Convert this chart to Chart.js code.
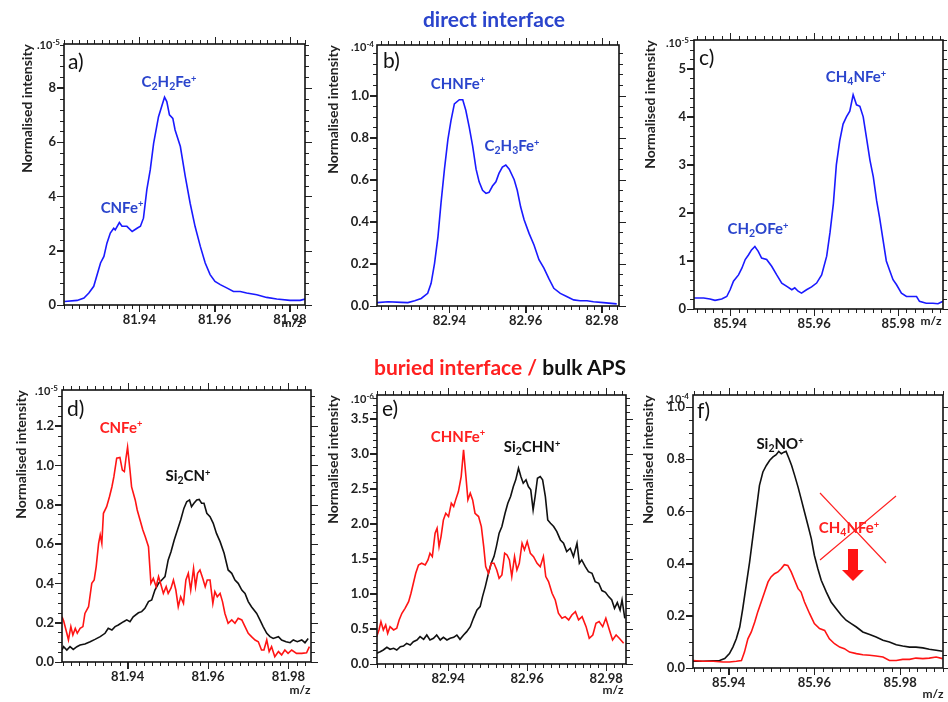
<!DOCTYPE html>
<html>
<head>
<meta charset="utf-8">
<script src="https://cdn.jsdelivr.net/npm/chart.js@4.4.1/dist/chart.umd.min.js"></script>
<style>
html, body { margin: 0; padding: 0; background: #fff; overflow: hidden; }
body { width: 948px; height: 702px; position: relative; font-family: Lato, "Open Sans", sans-serif; }
canvas { position: absolute; }
.t { position: absolute; font-weight: bold; white-space: nowrap; line-height: 1; transform: translate(-50%, -50%); }
.lab { font-size: 15px; }
.blue { color: #2a44cc; }
.red { color: #ff2020; }
.blk { color: #111; }
.sb { font-size: 0.7em; vertical-align: -0.28em; }
.sp { font-size: 0.62em; vertical-align: 0.55em; }
.exp { position: absolute; font-size: 11px; font-weight: bold; color: #222; transform: translate(-100%, -50%); white-space: nowrap; }
.exp sup { font-size: 8px; vertical-align: 4px; }
.let { position: absolute; font-size: 21px; color: #111; line-height: 1; }
.mz { position: absolute; font-size: 12px; font-weight: bold; color: #222; transform: translate(-50%, -50%); }
</style>
</head>
<body>

<div class="t blue" style="left:494px;top:18px;font-size:21px;">direct interface</div>
<div class="t" style="left:500px;top:366px;font-size:21px;"><span class="red">buried interface /</span> <span class="blk">bulk APS</span></div>

<div class="t lab blue" style="left:122px;top:207px;">CNFe<span class="sp">+</span></div>
<div class="t lab blue" style="left:169px;top:83px;">C<span class="sb">2</span>H<span class="sb">2</span>Fe<span class="sp">+</span></div>
<div class="t lab blue" style="left:458px;top:83px;">CHNFe<span class="sp">+</span></div>
<div class="t lab blue" style="left:512px;top:147px;">C<span class="sb">2</span>H<span class="sb">3</span>Fe<span class="sp">+</span></div>
<div class="t lab blue" style="left:758px;top:230px;">CH<span class="sb">2</span>OFe<span class="sp">+</span></div>
<div class="t lab blue" style="left:856px;top:78px;">CH<span class="sb">4</span>NFe<span class="sp">+</span></div>
<div class="t lab red" style="left:121px;top:427px;">CNFe<span class="sp">+</span></div>
<div class="t lab blk" style="left:188px;top:477px;">Si<span class="sb">2</span>CN<span class="sp">+</span></div>
<div class="t lab red" style="left:458px;top:436px;">CHNFe<span class="sp">+</span></div>
<div class="t lab blk" style="left:532px;top:448px;">Si<span class="sb">2</span>CHN<span class="sp">+</span></div>
<div class="t lab blk" style="left:780px;top:445px;">Si<span class="sb">2</span>NO<span class="sp">+</span></div>
<div class="t lab red" style="left:849px;top:529px;">CH<span class="sb">4</span>NFe<span class="sp">+</span></div>

<div class="exp" style="left:60px;top:44px;">.10<sup>-5</sup></div>
<div class="exp" style="left:374px;top:46px;">.10<sup>-4</sup></div>
<div class="exp" style="left:689px;top:42px;">.10<sup>-5</sup></div>
<div class="exp" style="left:58px;top:390px;">.10<sup>-5</sup></div>
<div class="exp" style="left:374px;top:398px;">.10<sup>-6</sup></div>
<div class="exp" style="left:689px;top:398px;">.10<sup>-4</sup></div>

<div class="let" style="left:68px;top:50px;">a)</div>
<div class="let" style="left:383px;top:49px;">b)</div>
<div class="let" style="left:699px;top:46px;">c)</div>
<div class="let" style="left:67px;top:397px;">d)</div>
<div class="let" style="left:382px;top:397px;">e)</div>
<div class="let" style="left:697px;top:399px;">f)</div>

<div class="mz" style="left:292px;top:322px;">m/z</div>
<div class="mz" style="left:931px;top:320px;">m/z</div>
<div class="mz" style="left:300px;top:689px;">m/z</div>
<div class="mz" style="left:613px;top:689px;">m/z</div>
<div class="mz" style="left:933px;top:693px;">m/z</div>

<script>
// ---- a) direct interface, m/z 82 region
var mzA = [81.9201, 81.9235, 81.9253, 81.9266, 81.9279, 81.9297, 81.9306, 81.9314, 81.9323, 81.9332, 81.9336, 81.9347, 81.9354, 81.9367, 81.9381, 81.9394, 81.9403, 81.9411, 81.9420, 81.9429, 81.9438, 81.9451, 81.9462, 81.9467, 81.9473, 81.9480, 81.9489, 81.9495, 81.9509, 81.9522, 81.9535, 81.9548, 81.9562, 81.9575, 81.9588, 81.9601, 81.9615, 81.9632, 81.9650, 81.9668, 81.9685, 81.9712, 81.9738, 81.9765, 81.9800, 81.9827, 81.9841];
var intA = [0.13, 0.17, 0.26, 0.44, 0.69, 1.55, 1.79, 2.28, 2.65, 2.83, 2.77, 3.04, 2.90, 2.90, 2.71, 2.83, 2.90, 3.20, 4.25, 4.98, 5.96, 6.94, 7.44, 7.66, 7.50, 7.01, 6.88, 6.45, 5.84, 4.74, 3.75, 2.90, 2.16, 1.55, 1.12, 0.87, 0.75, 0.63, 0.50, 0.50, 0.44, 0.38, 0.28, 0.22, 0.17, 0.17, 0.22];

// ---- b) direct interface, m/z 83 region
var mzB = [82.9210, 82.9239, 82.9274, 82.9291, 82.9309, 82.9326, 82.9343, 82.9352, 82.9361, 82.9370, 82.9378, 82.9387, 82.9396, 82.9404, 82.9413, 82.9426, 82.9435, 82.9443, 82.9452, 82.9461, 82.9470, 82.9478, 82.9487, 82.9496, 82.9504, 82.9513, 82.9522, 82.9530, 82.9539, 82.9548, 82.9557, 82.9570, 82.9578, 82.9587, 82.9596, 82.9609, 82.9622, 82.9635, 82.9648, 82.9661, 82.9674, 82.9691, 82.9709, 82.9726, 82.9743, 82.9761, 82.9778, 82.9804, 82.9839];
var intB = [0.016, 0.020, 0.017, 0.016, 0.025, 0.036, 0.060, 0.108, 0.203, 0.33, 0.49, 0.65, 0.79, 0.88, 0.96, 0.98, 0.98, 0.93, 0.85, 0.76, 0.65, 0.59, 0.55, 0.535, 0.54, 0.57, 0.59, 0.63, 0.66, 0.67, 0.65, 0.60, 0.55, 0.47, 0.41, 0.345, 0.29, 0.22, 0.18, 0.13, 0.084, 0.060, 0.044, 0.029, 0.025, 0.025, 0.020, 0.016, 0.010];

// ---- c) direct interface, m/z 86 region
var mzC = [85.9314, 85.9337, 85.9352, 85.9364, 85.9380, 85.9392, 85.9400, 85.9408, 85.9420, 85.9428, 85.9436, 85.9444, 85.9451, 85.9459, 85.9467, 85.9475, 85.9487, 85.9499, 85.9511, 85.9523, 85.9535, 85.9547, 85.9554, 85.9562, 85.9570, 85.9582, 85.9594, 85.9606, 85.9618, 85.9630, 85.9638, 85.9646, 85.9653, 85.9661, 85.9669, 85.9677, 85.9685, 85.9693, 85.9701, 85.9709, 85.9717, 85.9725, 85.9733, 85.9741, 85.9749, 85.9756, 85.9764, 85.9772, 85.9780, 85.9788, 85.9796, 85.9808, 85.9820, 85.9832, 85.9844, 85.9851, 85.9867, 85.9883, 85.9895, 85.9907];
var intC = [0.23, 0.23, 0.21, 0.18, 0.21, 0.26, 0.40, 0.58, 0.71, 0.85, 1.03, 1.13, 1.23, 1.30, 1.20, 1.06, 1.03, 0.89, 0.71, 0.54, 0.47, 0.40, 0.44, 0.37, 0.33, 0.40, 0.46, 0.54, 0.71, 1.10, 1.60, 2.20, 3.00, 3.50, 3.85, 4.00, 4.12, 4.46, 4.25, 4.22, 4.00, 3.55, 3.10, 2.75, 2.25, 1.90, 1.45, 1.00, 0.80, 0.61, 0.51, 0.33, 0.26, 0.26, 0.26, 0.16, 0.12, 0.12, 0.11, 0.16];

// ---- d) buried interface (red) / bulk (black), m/z 82
var mzDred = [81.9237, 81.9241, 81.9249, 81.9253, 81.9259, 81.9264, 81.9270, 81.9275, 81.9282, 81.9289, 81.9294, 81.9303, 81.9311, 81.9317, 81.9322, 81.9328, 81.9332, 81.9336, 81.9340, 81.9348, 81.9355, 81.9361, 81.9366, 81.9373, 81.9381, 81.9387, 81.9392, 81.9396, 81.9400, 81.9406, 81.9410, 81.9419, 81.9424, 81.9431, 81.9438, 81.9444, 81.9452, 81.9458, 81.9464, 81.9471, 81.9477, 81.9482, 81.9489, 81.9496, 81.9501, 81.9508, 81.9514, 81.9520, 81.9526, 81.9532, 81.9539, 81.9545, 81.9551, 81.9557, 81.9564, 81.9569, 81.9574, 81.9580, 81.9587, 81.9593, 81.9598, 81.9605, 81.9612, 81.9617, 81.9623, 81.9630, 81.9636, 81.9642, 81.9650, 81.9659, 81.9667, 81.9675, 81.9684, 81.9692, 81.9700, 81.9708, 81.9717, 81.9725, 81.9733, 81.9739, 81.9746, 81.9752, 81.9758, 81.9766, 81.9775, 81.9783, 81.9791, 81.9799, 81.9808, 81.9820, 81.9833, 81.9845, 81.9852];
var intDred = [0.23, 0.21, 0.146, 0.112, 0.18, 0.137, 0.171, 0.146, 0.171, 0.18, 0.247, 0.281, 0.40, 0.417, 0.485, 0.603, 0.646, 0.603, 0.756, 0.79, 0.84, 0.89, 0.942, 1.036, 1.04, 0.976, 0.968, 1.036, 1.092, 0.976, 0.89, 0.824, 0.773, 0.722, 0.671, 0.637, 0.586, 0.40, 0.425, 0.383, 0.434, 0.40, 0.349, 0.383, 0.349, 0.375, 0.417, 0.366, 0.281, 0.332, 0.298, 0.417, 0.451, 0.366, 0.476, 0.383, 0.451, 0.468, 0.425, 0.383, 0.417, 0.417, 0.298, 0.358, 0.332, 0.349, 0.307, 0.247, 0.197, 0.214, 0.197, 0.222, 0.214, 0.18, 0.146, 0.129, 0.112, 0.103, 0.061, 0.061, 0.112, 0.053, 0.078, 0.027, 0.053, 0.036, 0.061, 0.044, 0.061, 0.044, 0.044, 0.047, 0.078];
var mzDblack = [81.9237, 81.9241, 81.9249, 81.9257, 81.9265, 81.9274, 81.9282, 81.9294, 81.9307, 81.9319, 81.9332, 81.9344, 81.9352, 81.9361, 81.9369, 81.9377, 81.9390, 81.9398, 81.9406, 81.9414, 81.9427, 81.9435, 81.9443, 81.9452, 81.9460, 81.9468, 81.9477, 81.9485, 81.9493, 81.9501, 81.9508, 81.9516, 81.9524, 81.9532, 81.9540, 81.9547, 81.9554, 81.9559, 81.9565, 81.9572, 81.9578, 81.9584, 81.9590, 81.9597, 81.9605, 81.9613, 81.9621, 81.9630, 81.9640, 81.9650, 81.9659, 81.9667, 81.9675, 81.9684, 81.9692, 81.9700, 81.9708, 81.9721, 81.9729, 81.9737, 81.9746, 81.9754, 81.9762, 81.9775, 81.9783, 81.9794, 81.9804, 81.9812, 81.9822, 81.9833, 81.9841, 81.9849];
var intDblack = [0.061, 0.078, 0.061, 0.078, 0.064, 0.078, 0.086, 0.092, 0.103, 0.115, 0.129, 0.146, 0.171, 0.163, 0.18, 0.188, 0.205, 0.214, 0.205, 0.23, 0.25, 0.256, 0.273, 0.307, 0.315, 0.366, 0.40, 0.417, 0.434, 0.519, 0.561, 0.62, 0.671, 0.722, 0.781, 0.815, 0.824, 0.79, 0.807, 0.824, 0.827, 0.807, 0.807, 0.756, 0.739, 0.705, 0.654, 0.612, 0.553, 0.468, 0.451, 0.417, 0.40, 0.366, 0.349, 0.307, 0.281, 0.247, 0.214, 0.18, 0.146, 0.129, 0.12, 0.129, 0.112, 0.103, 0.098, 0.112, 0.103, 0.112, 0.098, 0.12];

// ---- e) buried interface (red) / bulk (black), m/z 83
var mzEred = [82.9219, 82.9225, 82.9230, 82.9236, 82.9242, 82.9247, 82.9253, 82.9262, 82.9270, 82.9276, 82.9283, 82.9291, 82.9300, 82.9306, 82.9312, 82.9318, 82.9325, 82.9333, 82.9342, 82.9349, 82.9354, 82.9360, 82.9367, 82.9372, 82.9377, 82.9382, 82.9388, 82.9394, 82.9401, 82.9408, 82.9414, 82.9419, 82.9426, 82.9433, 82.9439, 82.9445, 82.9450, 82.9456, 82.9462, 82.9468, 82.9477, 82.9484, 82.9490, 82.9495, 82.9502, 82.9509, 82.9516, 82.9523, 82.9529, 82.9536, 82.9543, 82.9549, 82.9555, 82.9561, 82.9568, 82.9574, 82.9580, 82.9587, 82.9593, 82.9600, 82.9608, 82.9616, 82.9625, 82.9633, 82.9641, 82.9647, 82.9654, 82.9663, 82.9671, 82.9679, 82.9688, 82.9696, 82.9705, 82.9713, 82.9722, 82.9730, 82.9739, 82.9749, 82.9757, 82.9766, 82.9774, 82.9782, 82.9791, 82.9799, 82.9808, 82.9816, 82.9825, 82.9833, 82.9844];
var intEred = [0.39, 0.486, 0.605, 0.486, 0.557, 0.438, 0.533, 0.486, 0.51, 0.629, 0.724, 0.795, 0.89, 1.01, 1.152, 1.295, 1.414, 1.438, 1.414, 1.486, 1.581, 1.533, 1.867, 1.938, 1.676, 1.819, 2.057, 2.152, 2.105, 2.295, 2.248, 2.343, 2.462, 2.676, 3.057, 2.676, 2.343, 2.438, 2.343, 2.152, 2.105, 1.962, 1.676, 1.39, 1.295, 1.438, 1.438, 1.343, 1.224, 1.271, 1.581, 1.557, 1.486, 1.248, 1.533, 1.343, 1.438, 1.724, 1.629, 1.748, 1.581, 1.533, 1.438, 1.39, 1.533, 1.248, 1.176, 1.01, 0.914, 0.724, 0.652, 0.676, 0.629, 0.70, 0.748, 0.629, 0.676, 0.533, 0.367, 0.414, 0.581, 0.605, 0.533, 0.652, 0.486, 0.343, 0.414, 0.367, 0.295];
var mzEblack = [82.9219, 82.9228, 82.9236, 82.9245, 82.9253, 82.9262, 82.9270, 82.9279, 82.9287, 82.9295, 82.9304, 82.9312, 82.9321, 82.9329, 82.9338, 82.9346, 82.9354, 82.9363, 82.9371, 82.9380, 82.9388, 82.9397, 82.9405, 82.9414, 82.9422, 82.9430, 82.9439, 82.9447, 82.9456, 82.9464, 82.9473, 82.9481, 82.9487, 82.9494, 82.9502, 82.9509, 82.9516, 82.9522, 82.9529, 82.9536, 82.9544, 82.9551, 82.9558, 82.9565, 82.9571, 82.9578, 82.9584, 82.9590, 82.9597, 82.9603, 82.9609, 82.9615, 82.9620, 82.9626, 82.9633, 82.9639, 82.9646, 82.9652, 82.9659, 82.9667, 82.9675, 82.9684, 82.9692, 82.9700, 82.9709, 82.9717, 82.9726, 82.9732, 82.9738, 82.9747, 82.9755, 82.9764, 82.9772, 82.9781, 82.9789, 82.9798, 82.9806, 82.9814, 82.9821, 82.9828, 82.9835, 82.9840, 82.9847];
var intEblack = [0.152, 0.176, 0.20, 0.238, 0.21, 0.224, 0.20, 0.248, 0.257, 0.295, 0.271, 0.319, 0.343, 0.39, 0.352, 0.414, 0.343, 0.367, 0.414, 0.343, 0.381, 0.343, 0.367, 0.381, 0.414, 0.352, 0.414, 0.462, 0.533, 0.652, 0.771, 0.819, 0.962, 1.105, 1.295, 1.438, 1.533, 1.676, 1.867, 1.962, 2.152, 2.295, 2.39, 2.533, 2.629, 2.795, 2.676, 2.581, 2.629, 2.533, 2.486, 2.20, 2.39, 2.652, 2.676, 2.629, 2.39, 2.057, 2.01, 1.962, 1.89, 1.771, 1.724, 1.605, 1.652, 1.533, 1.724, 1.438, 1.486, 1.39, 1.319, 1.295, 1.176, 1.152, 1.048, 1.024, 0.962, 0.914, 0.795, 0.876, 0.771, 0.914, 0.652];

// ---- f) buried interface (red) / bulk (black), m/z 86
var mzFblack = [85.9317, 85.9340, 85.9364, 85.9379, 85.9391, 85.9402, 85.9410, 85.9418, 85.9426, 85.9433, 85.9441, 85.9449, 85.9457, 85.9465, 85.9472, 85.9480, 85.9488, 85.9496, 85.9503, 85.9511, 85.9517, 85.9523, 85.9529, 85.9534, 85.9541, 85.9547, 85.9554, 85.9562, 85.9569, 85.9577, 85.9585, 85.9593, 85.9600, 85.9608, 85.9616, 85.9628, 85.9639, 85.9651, 85.9663, 85.9674, 85.9686, 85.9698, 85.9713, 85.9729, 85.9744, 85.9760, 85.9775, 85.9791, 85.9806, 85.9822, 85.9837, 85.9853, 85.9868, 85.9884, 85.9899];
var intFblack = [0.026, 0.026, 0.028, 0.029, 0.036, 0.055, 0.080, 0.112, 0.157, 0.227, 0.317, 0.406, 0.508, 0.61, 0.70, 0.751, 0.776, 0.796, 0.808, 0.817, 0.83, 0.821, 0.827, 0.83, 0.802, 0.776, 0.738, 0.693, 0.649, 0.598, 0.547, 0.495, 0.432, 0.381, 0.336, 0.291, 0.253, 0.227, 0.202, 0.183, 0.17, 0.157, 0.138, 0.128, 0.119, 0.106, 0.10, 0.089, 0.084, 0.080, 0.080, 0.077, 0.072, 0.068, 0.064];
var mzFred = [85.9317, 85.9340, 85.9364, 85.9387, 85.9402, 85.9418, 85.9430, 85.9437, 85.9445, 85.9453, 85.9461, 85.9468, 85.9476, 85.9484, 85.9492, 85.9499, 85.9507, 85.9515, 85.9523, 85.9530, 85.9538, 85.9546, 85.9554, 85.9562, 85.9569, 85.9577, 85.9589, 85.9600, 85.9612, 85.9624, 85.9635, 85.9647, 85.9659, 85.9670, 85.9682, 85.9698, 85.9713, 85.9729, 85.9744, 85.9760, 85.9775, 85.9791, 85.9806, 85.9822, 85.9837, 85.9853, 85.9868, 85.9884, 85.9899];
var intFred = [0.029, 0.026, 0.026, 0.023, 0.023, 0.026, 0.029, 0.061, 0.112, 0.138, 0.176, 0.215, 0.253, 0.291, 0.33, 0.349, 0.361, 0.368, 0.381, 0.396, 0.393, 0.368, 0.336, 0.304, 0.291, 0.253, 0.208, 0.17, 0.151, 0.144, 0.112, 0.093, 0.080, 0.074, 0.061, 0.055, 0.051, 0.049, 0.046, 0.042, 0.029, 0.029, 0.033, 0.033, 0.038, 0.036, 0.038, 0.042, 0.036];

// tick labels
var xTicksA = [81.94, 81.96, 81.98];
var xTicksB = [82.94, 82.96, 82.98];
var xTicksC = [85.94, 85.96, 85.98];
var yTicksA = [0, 2, 4, 6, 8];
var yTicksB = [0, 0.2, 0.4, 0.6, 0.8, 1.0];
var yTicksC = [0, 1, 2, 3, 4, 5];
var yTicksD = [0, 0.2, 0.4, 0.6, 0.8, 1.0, 1.2];
var yTicksE = [0, 0.5, 1.0, 1.5, 2.0, 2.5, 3.0, 3.5];
var yTicksF = [0, 0.2, 0.4, 0.6, 0.8, 1.0];

var BLUE = '#1a1aff', RED = '#ff1414', BLACK = '#111111';

var panels = [
    { box: [64, 44, 305, 305], xr: [81.920, 81.984], ymax: 9.62, xt: xTicksA, yt: yTicksA, yd: 0, ym: 0.4, gap: 37,
      series: [{ mz: mzA, v: intA, c: BLUE }] },
    { box: [377, 45, 619, 306], xr: [82.921, 82.9845], ymax: 1.24, xt: xTicksB, yt: yTicksB, yd: 1, ym: 0.05, gap: 44,
      series: [{ mz: mzB, v: intB, c: BLUE }] },
    { box: [694, 40, 943, 309], xr: [85.9314, 85.9907], ymax: 5.6, xt: xTicksC, yt: yTicksC, yd: 0, ym: 0.2, gap: 44,
      series: [{ mz: mzC, v: intC, c: BLUE }] },
    { box: [62, 390, 311, 662], xr: [81.9237, 81.9856], ymax: 1.383, xt: xTicksA, yt: yTicksD, yd: 1, ym: 0.05, gap: 41,
      series: [{ mz: mzDred, v: intDred, c: RED }, { mz: mzDblack, v: intDblack, c: BLACK }] },
    { box: [377, 395, 626, 664], xr: [82.922, 82.985], ymax: 3.84, xt: xTicksB, yt: yTicksE, yd: 1, ym: 0.1, gap: 44,
      series: [{ mz: mzEred, v: intEred, c: RED }, { mz: mzEblack, v: intEblack, c: BLACK }] },
    { box: [693, 395, 943, 668], xr: [85.9317, 85.990], ymax: 1.046, xt: xTicksC, yt: yTicksF, yd: 1, ym: 0.05, gap: 45,
      series: [{ mz: mzFred, v: intFred, c: RED }, { mz: mzFblack, v: intFblack, c: BLACK }], cross: true }
];

var AXW = 70, AXH = 40, PADT = 12, PADR = 12;

// frame, minor ticks and top/right ticks drawn as SVG from the chart's scales
function frameTicks(p, svg, offX, offY) {
    return {
        id: 'frame' + p.box[0] + '_' + p.box[1],
        afterDraw: function(chart) {
            var a = chart.chartArea, xs = chart.scales.x, ys = chart.scales.y;
            var l = a.left + offX, r = a.right + offX, t = a.top + offY, b = a.bottom + offY;
            var parts = [];
            function seg(x1, y1, x2, y2, w, c) {
                parts.push('<line x1="' + x1 + '" y1="' + y1 + '" x2="' + x2 + '" y2="' + y2 +
                           '" stroke="' + c + '" stroke-width="' + w + '"/>');
            }
            function xpix(v) { return Math.round(xs.getPixelForValue(v) + offX) + 0.5; }
            function ypix(v) { return Math.round(ys.getPixelForValue(v) + offY) + 0.5; }
            var i, px, py;
            for (i = Math.ceil(p.xr[0] / 0.002 - 1e-6); i * 0.002 <= p.xr[1] + 1e-9; i++) {
                px = xpix(i * 0.002);
                seg(px, b, px, b + 4, 1, '#222');
                seg(px, t, px, t - 4, 1, '#222');
            }
            for (i = 0; i < p.xt.length; i++) {
                px = xpix(p.xt[i]);
                seg(px, b, px, b + 7, 1, '#222');
                seg(px, t, px, t - 7, 1, '#222');
            }
            for (i = 0; i * p.ym <= p.ymax + 1e-9; i++) {
                py = ypix(i * p.ym);
                seg(l, py, l - 4, py, 1, '#222');
                seg(r, py, r + 4, py, 1, '#222');
            }
            for (i = 0; i < p.yt.length; i++) {
                py = ypix(p.yt[i]);
                seg(l, py, l - 7, py, 1, '#222');
                seg(r, py, r + 7, py, 1, '#222');
            }
            parts.push('<rect x="' + l + '" y="' + t + '" width="' + (r - l) + '" height="' + (b - t) +
                       '" fill="none" stroke="#111" stroke-width="1.6"/>');
            if (p.cross) {
                // crossed-out CH4NFe+ and downward arrow, placed relative to the plot box
                seg(l + 127, t + 98, l + 193, t + 168, 1.2, '#ff2020');
                seg(l + 203, t + 101, l + 127, t + 165, 1.2, '#ff2020');
                parts.push('<rect x="' + (l + 155) + '" y="' + (t + 154) + '" width="10" height="21" fill="#ff1414"/>');
                parts.push('<polygon points="' + (l + 149) + ',' + (t + 175) + ' ' + (l + 171) + ',' + (t + 175) + ' ' +
                           (l + 160) + ',' + (t + 186) + '" fill="#ff1414"/>');
            }
            svg.insertAdjacentHTML('beforeend', '<g>' + parts.join('') + '</g>');
        }
    };
}

var svgNS = 'http://www.w3.org/2000/svg';
var frameSvg = document.createElementNS(svgNS, 'svg');
frameSvg.setAttribute('width', '948');
frameSvg.setAttribute('height', '702');
frameSvg.style.position = 'absolute';
frameSvg.style.left = '0px';
frameSvg.style.top = '0px';

panels.forEach(function(p) {
    var L = p.box[0], T = p.box[1], R = p.box[2], B = p.box[3];
    var w = R - L + AXW + PADR, h = B - T + PADT + AXH;
    var cv = document.createElement('canvas');
    cv.width = w; cv.height = h;
    cv.style.width = w + 'px'; cv.style.height = h + 'px';
    cv.style.left = (L - AXW) + 'px'; cv.style.top = (T - PADT) + 'px';
    document.body.insertBefore(cv, document.body.firstChild);

    var tickFont = { family: 'Lato', weight: 'bold', size: 13 };
    new Chart(cv, {
        type: 'line',
        data: {
            datasets: p.series.map(function(s) {
                return {
                    data: s.mz.map(function(m, i) { return { x: m, y: s.v[i] }; }),
                    borderColor: s.c, borderWidth: 1.6, pointRadius: 0, tension: 0, fill: false
                };
            })
        },
        options: {
            responsive: false, animation: false, devicePixelRatio: 1,
            layout: { padding: { left: 0, top: PADT, right: PADR, bottom: 0 } },
            plugins: { legend: { display: false }, tooltip: { enabled: false } },
            scales: {
                x: {
                    type: 'linear', min: p.xr[0], max: p.xr[1],
                    grid: { display: true, drawOnChartArea: false, drawTicks: true, tickLength: 7, color: '#222', lineWidth: 1 },
                    border: { display: false },
                    afterBuildTicks: function(s) { s.ticks = p.xt.map(function(v) { return { value: v }; }); },
                    afterFit: function(s) { s.height = AXH; },
                    ticks: { padding: 0, color: '#222', font: tickFont, maxRotation: 0, autoSkip: false,
                             callback: function(v) { return v.toFixed(2); } }
                },
                y: {
                    type: 'linear', min: 0, max: p.ymax,
                    grid: { display: true, drawOnChartArea: false, drawTicks: true, tickLength: 7, color: '#222', lineWidth: 1 },
                    border: { display: false },
                    afterBuildTicks: function(s) { s.ticks = p.yt.map(function(v) { return { value: v }; }); },
                    afterFit: function(s) { s.width = AXW; },
                    title: { display: true, text: 'Normalised intensity', align: 'end', color: '#222',
                             font: { family: 'Lato', weight: 'bold', size: 14 },
                             padding: { top: AXW - p.gap - 8.4, bottom: 0 } },
                    ticks: { padding: 1, color: '#222', font: tickFont, autoSkip: false,
                             callback: function(v) { return v.toFixed(p.yd); } }
                }
            }
        },
        plugins: [frameTicks(p, frameSvg, L - AXW, T - PADT)]
    });
});
document.body.appendChild(frameSvg);
</script>
</body>
</html>
